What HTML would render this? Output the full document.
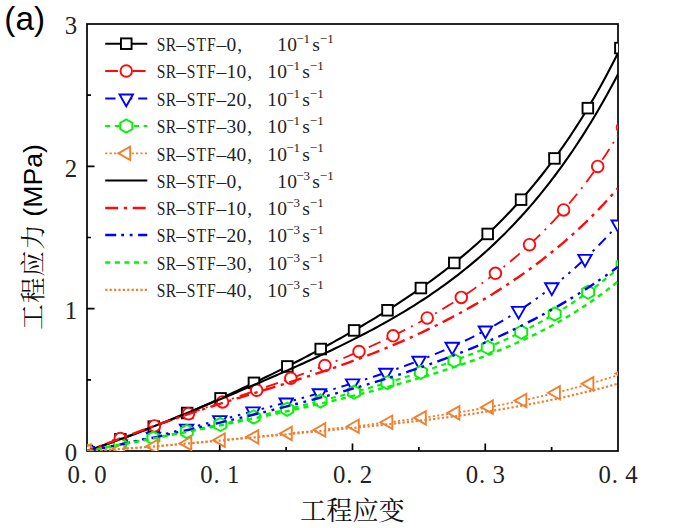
<!DOCTYPE html>
<html>
<head>
<meta charset="utf-8">
<title>SR-STF stress-strain (a)</title>
<style>
html,body{margin:0;padding:0;background:#fff;}
body{width:680px;height:528px;overflow:hidden;}
svg{display:block;}
text{font-family:"Liberation Serif",serif;fill:#222;}
.cjk{font-family:"Liberation Serif","Noto Serif CJK SC",serif;fill:#111;}
.sans{font-family:"Liberation Sans",sans-serif;fill:#000;}
.tk{font-size:24.8px;text-anchor:middle;}
.lg{font-size:19.5px;text-anchor:middle;}
.sp{font-size:13px;text-anchor:middle;}
.ln{fill:none;stroke-linecap:butt;stroke-linejoin:round;}
.mk{fill:#fff;stroke-width:1.9;stroke-linejoin:miter;}
</style>
</head>
<body>
<svg width="680" height="528" viewBox="0 0 680 528">
<rect x="0" y="0" width="680" height="528" fill="#ffffff"/>
<defs><clipPath id="plot"><rect x="87.0" y="24.0" width="531.0" height="427.0"/></clipPath></defs>
<g stroke="#000" stroke-width="1.7" fill="none" shape-rendering="auto">
<rect x="87.0" y="24.0" width="531.0" height="427.0"/>
<path d="M153.38 451.0 v-4 M219.75 451.0 v-7.5 M286.12 451.0 v-4 M352.5 451.0 v-7.5 M418.88 451.0 v-4 M485.25 451.0 v-7.5 M551.62 451.0 v-4 M87.0 379.83 h4 M87.0 308.67 h7.5 M87.0 237.5 h4 M87.0 166.33 h7.5 M87.0 95.17 h4"/>
</g>
<g clip-path="url(#plot)">
<path class="ln" d="M87 451 L90 449.99 L93 448.98 L96 447.95 L99 446.92 L102 445.88 L105 444.84 L108 443.78 L111 442.72 L114 441.65 L117 440.57 L120 439.48 L123 438.38 L126 437.28 L129 436.17 L132 435.05 L135 433.92 L138 432.78 L141 431.63 L144 430.48 L147 429.32 L150 428.15 L153 426.97 L156 425.79 L159 424.59 L162 423.39 L165 422.18 L168 420.96 L171 419.74 L174 418.5 L177 417.26 L180 416.01 L183 414.76 L186 413.49 L189 412.22 L192 410.94 L195 409.65 L198 408.36 L201 407.06 L204 405.75 L207 404.43 L210 403.1 L213 401.77 L216 400.43 L219 399.08 L222 397.73 L225 396.37 L228 395 L231 393.63 L234 392.24 L237 390.85 L240 389.45 L243 388.05 L246 386.64 L249 385.22 L252 383.79 L255 382.36 L258 380.92 L261 379.47 L264 378.01 L267 376.55 L270 375.08 L273 373.6 L276 372.12 L279 370.63 L282 369.13 L285 367.62 L288 366.1 L291 364.58 L294 363.04 L297 361.5 L300 359.96 L303 358.4 L306 356.83 L309 355.26 L312 353.68 L315 352.09 L318 350.49 L321 348.88 L324 347.26 L327 345.63 L330 343.99 L333 342.34 L336 340.68 L339 339.01 L342 337.33 L345 335.64 L348 333.93 L351 332.22 L354 330.49 L357 328.75 L360 327 L363 325.23 L366 323.45 L369 321.66 L372 319.86 L375 318.04 L378 316.2 L381 314.35 L384 312.48 L387 310.6 L390 308.7 L393 306.78 L396 304.85 L399 302.9 L402 300.93 L405 298.94 L408 296.93 L411 294.9 L414 292.85 L417 290.77 L420 288.68 L423 286.56 L426 284.42 L429 282.26 L432 280.07 L435 277.85 L438 275.61 L441 273.34 L444 271.05 L447 268.72 L450 266.37 L453 263.98 L456 261.57 L459 259.12 L462 256.64 L465 254.13 L468 251.58 L471 249 L474 246.38 L477 243.72 L480 241.02 L483 238.29 L486 235.51 L489 232.69 L492 229.83 L495 226.93 L498 223.98 L501 220.98 L504 217.94 L507 214.85 L510 211.7 L513 208.51 L516 205.27 L519 201.97 L522 198.62 L525 195.21 L528 191.74 L531 188.21 L534 184.62 L537 180.97 L540 177.26 L543 173.48 L546 169.64 L549 165.73 L552 161.74 L555 157.69 L558 153.56 L561 149.36 L564 145.09 L567 140.73 L570 136.3 L573 131.78 L576 127.18 L579 122.49 L582 117.72 L585 112.86 L588 107.91 L591 102.86 L594 97.72 L597 92.49 L600 87.15 L603 81.72 L606 76.18 L609 70.53 L612 64.78 L615 58.92 L618 52.94" stroke="#000000" stroke-width="2.1"/>
<rect class="mk" x="81.7" y="445.7" width="10.6" height="10.6" stroke="#000000"/>
<rect class="mk" x="115.09" y="434.04" width="10.6" height="10.6" stroke="#000000"/>
<rect class="mk" x="148.48" y="421.36" width="10.6" height="10.6" stroke="#000000"/>
<rect class="mk" x="181.87" y="407.7" width="10.6" height="10.6" stroke="#000000"/>
<rect class="mk" x="215.26" y="393.08" width="10.6" height="10.6" stroke="#000000"/>
<rect class="mk" x="248.65" y="377.56" width="10.6" height="10.6" stroke="#000000"/>
<rect class="mk" x="282.04" y="361.14" width="10.6" height="10.6" stroke="#000000"/>
<rect class="mk" x="315.43" y="343.72" width="10.6" height="10.6" stroke="#000000"/>
<rect class="mk" x="348.82" y="325.12" width="10.6" height="10.6" stroke="#000000"/>
<rect class="mk" x="382.21" y="304.98" width="10.6" height="10.6" stroke="#000000"/>
<rect class="mk" x="415.6" y="282.75" width="10.6" height="10.6" stroke="#000000"/>
<rect class="mk" x="448.99" y="257.65" width="10.6" height="10.6" stroke="#000000"/>
<rect class="mk" x="482.38" y="228.64" width="10.6" height="10.6" stroke="#000000"/>
<rect class="mk" x="515.77" y="194.36" width="10.6" height="10.6" stroke="#000000"/>
<rect class="mk" x="549.16" y="153.13" width="10.6" height="10.6" stroke="#000000"/>
<rect class="mk" x="582.55" y="102.86" width="10.6" height="10.6" stroke="#000000"/>
<rect class="mk" x="615.1" y="42.78" width="10.6" height="10.6" stroke="#000000"/>
<path class="ln" d="M87 451 L90 449.9 L93 448.8 L96 447.69 L99 446.58 L102 445.46 L105 444.34 L108 443.21 L111 442.09 L114 440.96 L117 439.84 L120 438.71 L123 437.58 L126 436.46 L129 435.34 L132 434.21 L135 433.09 L138 431.98 L141 430.86 L144 429.75 L147 428.64 L150 427.54 L153 426.44 L156 425.34 L159 424.25 L162 423.16 L165 422.07 L168 420.99 L171 419.91 L174 418.84 L177 417.77 L180 416.7 L183 415.64 L186 414.58 L189 413.52 L192 412.47 L195 411.42 L198 410.38 L201 409.34 L204 408.3 L207 407.26 L210 406.23 L213 405.19 L216 404.16 L219 403.14 L222 402.11 L225 401.08 L228 400.06 L231 399.03 L234 398.01 L237 396.98 L240 395.96 L243 394.94 L246 393.91 L249 392.88 L252 391.85 L255 390.82 L258 389.79 L261 388.76 L264 387.72 L267 386.68 L270 385.63 L273 384.59 L276 383.53 L279 382.48 L282 381.42 L285 380.35 L288 379.28 L291 378.2 L294 377.12 L297 376.03 L300 374.93 L303 373.83 L306 372.72 L309 371.6 L312 370.47 L315 369.34 L318 368.19 L321 367.04 L324 365.88 L327 364.71 L330 363.53 L333 362.34 L336 361.13 L339 359.92 L342 358.7 L345 357.46 L348 356.21 L351 354.95 L354 353.68 L357 352.4 L360 351.1 L363 349.79 L366 348.46 L369 347.13 L372 345.77 L375 344.41 L378 343.02 L381 341.63 L384 340.22 L387 338.79 L390 337.34 L393 335.88 L396 334.41 L399 332.91 L402 331.4 L405 329.87 L408 328.32 L411 326.76 L414 325.17 L417 323.57 L420 321.94 L423 320.3 L426 318.64 L429 316.95 L432 315.25 L435 313.52 L438 311.77 L441 310 L444 308.2 L447 306.39 L450 304.54 L453 302.68 L456 300.79 L459 298.87 L462 296.92 L465 294.95 L468 292.96 L471 290.93 L474 288.88 L477 286.79 L480 284.68 L483 282.54 L486 280.36 L489 278.15 L492 275.91 L495 273.64 L498 271.33 L501 268.98 L504 266.6 L507 264.18 L510 261.72 L513 259.22 L516 256.69 L519 254.11 L522 251.48 L525 248.81 L528 246.1 L531 243.34 L534 240.53 L537 237.67 L540 234.76 L543 231.8 L546 228.78 L549 225.71 L552 222.58 L555 219.39 L558 216.14 L561 212.83 L564 209.46 L567 206.01 L570 202.5 L573 198.92 L576 195.27 L579 191.54 L582 187.73 L585 183.85 L588 179.88 L591 175.83 L594 171.69 L597 167.46 L600 163.14 L603 158.72 L606 154.21 L609 149.6 L612 144.88 L615 140.05 L618 135.11" stroke="#ff0a0a" stroke-width="1.8" stroke-dasharray="12.8 6.4 2 6.4" stroke-dashoffset="3.2"/>
<circle class="mk" cx="86.2" cy="451.29" r="5.8" stroke="#ff0a0a"/>
<circle class="mk" cx="120.3" cy="438.6" r="5.8" stroke="#ff0a0a"/>
<circle class="mk" cx="154.4" cy="425.92" r="5.8" stroke="#ff0a0a"/>
<circle class="mk" cx="188.5" cy="413.7" r="5.8" stroke="#ff0a0a"/>
<circle class="mk" cx="222.6" cy="401.9" r="5.8" stroke="#ff0a0a"/>
<circle class="mk" cx="256.7" cy="390.24" r="5.8" stroke="#ff0a0a"/>
<circle class="mk" cx="290.8" cy="378.27" r="5.8" stroke="#ff0a0a"/>
<circle class="mk" cx="324.9" cy="365.53" r="5.8" stroke="#ff0a0a"/>
<circle class="mk" cx="359" cy="351.53" r="5.8" stroke="#ff0a0a"/>
<circle class="mk" cx="393.1" cy="335.83" r="5.8" stroke="#ff0a0a"/>
<circle class="mk" cx="427.2" cy="317.97" r="5.8" stroke="#ff0a0a"/>
<circle class="mk" cx="461.3" cy="297.38" r="5.8" stroke="#ff0a0a"/>
<circle class="mk" cx="495.4" cy="273.33" r="5.8" stroke="#ff0a0a"/>
<circle class="mk" cx="529.5" cy="244.72" r="5.8" stroke="#ff0a0a"/>
<circle class="mk" cx="563.6" cy="209.91" r="5.8" stroke="#ff0a0a"/>
<circle class="mk" cx="597.7" cy="166.46" r="5.8" stroke="#ff0a0a"/>
<circle class="mk" cx="622.5" cy="127.49" r="5.8" stroke="#ff0a0a"/>
<path class="ln" d="M87 451 L90 450.44 L93 449.88 L96 449.3 L99 448.71 L102 448.11 L105 447.5 L108 446.89 L111 446.26 L114 445.63 L117 444.99 L120 444.34 L123 443.68 L126 443.02 L129 442.35 L132 441.67 L135 440.99 L138 440.3 L141 439.61 L144 438.91 L147 438.2 L150 437.49 L153 436.78 L156 436.06 L159 435.34 L162 434.61 L165 433.88 L168 433.14 L171 432.4 L174 431.66 L177 430.92 L180 430.17 L183 429.42 L186 428.66 L189 427.91 L192 427.15 L195 426.39 L198 425.63 L201 424.86 L204 424.09 L207 423.32 L210 422.55 L213 421.78 L216 421 L219 420.23 L222 419.45 L225 418.67 L228 417.89 L231 417.11 L234 416.32 L237 415.53 L240 414.75 L243 413.96 L246 413.17 L249 412.38 L252 411.58 L255 410.79 L258 409.99 L261 409.19 L264 408.39 L267 407.59 L270 406.78 L273 405.97 L276 405.17 L279 404.35 L282 403.54 L285 402.72 L288 401.91 L291 401.08 L294 400.26 L297 399.43 L300 398.6 L303 397.77 L306 396.93 L309 396.09 L312 395.25 L315 394.4 L318 393.55 L321 392.69 L324 391.83 L327 390.96 L330 390.09 L333 389.21 L336 388.33 L339 387.44 L342 386.55 L345 385.65 L348 384.74 L351 383.83 L354 382.91 L357 381.98 L360 381.04 L363 380.1 L366 379.15 L369 378.19 L372 377.22 L375 376.24 L378 375.25 L381 374.26 L384 373.25 L387 372.23 L390 371.2 L393 370.16 L396 369.11 L399 368.05 L402 366.97 L405 365.88 L408 364.78 L411 363.66 L414 362.53 L417 361.39 L420 360.23 L423 359.06 L426 357.87 L429 356.66 L432 355.44 L435 354.2 L438 352.94 L441 351.67 L444 350.37 L447 349.06 L450 347.73 L453 346.38 L456 345.01 L459 343.61 L462 342.2 L465 340.77 L468 339.31 L471 337.83 L474 336.32 L477 334.79 L480 333.24 L483 331.66 L486 330.06 L489 328.43 L492 326.77 L495 325.09 L498 323.37 L501 321.63 L504 319.86 L507 318.06 L510 316.23 L513 314.37 L516 312.48 L519 310.56 L522 308.6 L525 306.61 L528 304.59 L531 302.53 L534 300.43 L537 298.3 L540 296.13 L543 293.93 L546 291.69 L549 289.4 L552 287.08 L555 284.72 L558 282.32 L561 279.88 L564 277.39 L567 274.86 L570 272.29 L573 269.68 L576 267.02 L579 264.31 L582 261.56 L585 258.76 L588 255.91 L591 253.01 L594 250.06 L597 247.07 L600 244.02 L603 240.92 L606 237.77 L609 234.56 L612 231.3 L615 227.99 L618 224.62" stroke="#0000ff" stroke-width="2.0" stroke-dasharray="10.3 5.9 2.5 5.9 2.5 5.9" stroke-dashoffset="1.5"/>
<path class="mk" d="M80.3 447.07 L93.7 447.07 L87 458.87Z" stroke="#0000ff"/>
<path class="mk" d="M113.5 440.37 L126.9 440.37 L120.2 452.17Z" stroke="#0000ff"/>
<path class="mk" d="M146.7 432.75 L160.1 432.75 L153.4 444.55Z" stroke="#0000ff"/>
<path class="mk" d="M179.9 424.58 L193.3 424.58 L186.6 436.38Z" stroke="#0000ff"/>
<path class="mk" d="M213.1 416.09 L226.5 416.09 L219.8 427.89Z" stroke="#0000ff"/>
<path class="mk" d="M246.3 407.39 L259.7 407.39 L253 419.19Z" stroke="#0000ff"/>
<path class="mk" d="M279.5 398.47 L292.9 398.47 L286.2 410.27Z" stroke="#0000ff"/>
<path class="mk" d="M312.7 389.22 L326.1 389.22 L319.4 401.02Z" stroke="#0000ff"/>
<path class="mk" d="M345.9 379.41 L359.3 379.41 L352.6 391.21Z" stroke="#0000ff"/>
<path class="mk" d="M379.1 368.71 L392.5 368.71 L385.8 380.51Z" stroke="#0000ff"/>
<path class="mk" d="M412.3 356.69 L425.7 356.69 L419 368.49Z" stroke="#0000ff"/>
<path class="mk" d="M445.5 342.81 L458.9 342.81 L452.2 354.61Z" stroke="#0000ff"/>
<path class="mk" d="M478.7 326.45 L492.1 326.45 L485.4 338.25Z" stroke="#0000ff"/>
<path class="mk" d="M511.9 306.89 L525.3 306.89 L518.6 318.69Z" stroke="#0000ff"/>
<path class="mk" d="M545.1 283.31 L558.5 283.31 L551.8 295.11Z" stroke="#0000ff"/>
<path class="mk" d="M578.3 254.83 L591.7 254.83 L585 266.63Z" stroke="#0000ff"/>
<path class="mk" d="M611.5 220.46 L624.9 220.46 L618.2 232.26Z" stroke="#0000ff"/>
<path class="ln" d="M87 451 L90 450.42 L93 449.84 L96 449.27 L99 448.69 L102 448.12 L105 447.54 L108 446.96 L111 446.39 L114 445.81 L117 445.24 L120 444.66 L123 444.08 L126 443.5 L129 442.92 L132 442.34 L135 441.76 L138 441.18 L141 440.59 L144 440.01 L147 439.42 L150 438.83 L153 438.24 L156 437.65 L159 437.06 L162 436.46 L165 435.86 L168 435.26 L171 434.66 L174 434.06 L177 433.45 L180 432.84 L183 432.23 L186 431.62 L189 431 L192 430.38 L195 429.76 L198 429.14 L201 428.51 L204 427.88 L207 427.25 L210 426.62 L213 425.98 L216 425.34 L219 424.7 L222 424.05 L225 423.4 L228 422.75 L231 422.09 L234 421.44 L237 420.78 L240 420.11 L243 419.44 L246 418.77 L249 418.1 L252 417.42 L255 416.74 L258 416.06 L261 415.37 L264 414.68 L267 413.99 L270 413.29 L273 412.59 L276 411.89 L279 411.18 L282 410.47 L285 409.75 L288 409.03 L291 408.31 L294 407.58 L297 406.85 L300 406.12 L303 405.38 L306 404.64 L309 403.89 L312 403.14 L315 402.39 L318 401.63 L321 400.86 L324 400.1 L327 399.32 L330 398.55 L333 397.77 L336 396.98 L339 396.19 L342 395.39 L345 394.59 L348 393.78 L351 392.97 L354 392.16 L357 391.33 L360 390.5 L363 389.67 L366 388.83 L369 387.98 L372 387.13 L375 386.27 L378 385.41 L381 384.54 L384 383.66 L387 382.77 L390 381.88 L393 380.98 L396 380.08 L399 379.16 L402 378.24 L405 377.31 L408 376.37 L411 375.42 L414 374.47 L417 373.5 L420 372.53 L423 371.54 L426 370.55 L429 369.55 L432 368.53 L435 367.51 L438 366.47 L441 365.43 L444 364.37 L447 363.3 L450 362.22 L453 361.13 L456 360.02 L459 358.9 L462 357.77 L465 356.62 L468 355.46 L471 354.29 L474 353.1 L477 351.9 L480 350.68 L483 349.44 L486 348.19 L489 346.92 L492 345.63 L495 344.33 L498 343.01 L501 341.67 L504 340.31 L507 338.93 L510 337.53 L513 336.11 L516 334.67 L519 333.2 L522 331.72 L525 330.21 L528 328.68 L531 327.13 L534 325.55 L537 323.94 L540 322.31 L543 320.65 L546 318.97 L549 317.26 L552 315.52 L555 313.75 L558 311.96 L561 310.13 L564 308.27 L567 306.38 L570 304.46 L573 302.5 L576 300.51 L579 298.49 L582 296.43 L585 294.33 L588 292.2 L591 290.02 L594 287.81 L597 285.56 L600 283.27 L603 280.94 L606 278.57 L609 276.15 L612 273.69 L615 271.19 L618 268.64" stroke="#00f500" stroke-width="2.1" stroke-dasharray="5.1 4.5" stroke-dashoffset="0"/>
<path class="mk" d="M86.5 444.5 L92.5 447.8 L92.5 454.4 L86.5 457.7 L80.5 454.4 L80.5 447.8Z" stroke="#00f500"/>
<path class="mk" d="M119.94 438.07 L125.94 441.37 L125.94 447.97 L119.94 451.27 L113.94 447.97 L113.94 441.37Z" stroke="#00f500"/>
<path class="mk" d="M153.38 431.57 L159.38 434.87 L159.38 441.47 L153.38 444.77 L147.38 441.47 L147.38 434.87Z" stroke="#00f500"/>
<path class="mk" d="M186.82 424.85 L192.82 428.15 L192.82 434.75 L186.82 438.05 L180.82 434.75 L180.82 428.15Z" stroke="#00f500"/>
<path class="mk" d="M220.26 417.83 L226.26 421.13 L226.26 427.73 L220.26 431.03 L214.26 427.73 L214.26 421.13Z" stroke="#00f500"/>
<path class="mk" d="M253.7 410.44 L259.7 413.74 L259.7 420.34 L253.7 423.64 L247.7 420.34 L247.7 413.74Z" stroke="#00f500"/>
<path class="mk" d="M287.14 402.64 L293.14 405.94 L293.14 412.54 L287.14 415.84 L281.14 412.54 L281.14 405.94Z" stroke="#00f500"/>
<path class="mk" d="M320.58 394.37 L326.58 397.67 L326.58 404.27 L320.58 407.57 L314.58 404.27 L314.58 397.67Z" stroke="#00f500"/>
<path class="mk" d="M354.02 385.55 L360.02 388.85 L360.02 395.45 L354.02 398.75 L348.02 395.45 L348.02 388.85Z" stroke="#00f500"/>
<path class="mk" d="M387.46 376.04 L393.46 379.34 L393.46 385.94 L387.46 389.24 L381.46 385.94 L381.46 379.34Z" stroke="#00f500"/>
<path class="mk" d="M420.9 365.63 L426.9 368.93 L426.9 375.53 L420.9 378.83 L414.9 375.53 L414.9 368.93Z" stroke="#00f500"/>
<path class="mk" d="M454.34 354.03 L460.34 357.33 L460.34 363.93 L454.34 367.23 L448.34 363.93 L448.34 357.33Z" stroke="#00f500"/>
<path class="mk" d="M487.78 340.84 L493.78 344.14 L493.78 350.74 L487.78 354.04 L481.78 350.74 L481.78 344.14Z" stroke="#00f500"/>
<path class="mk" d="M521.22 325.51 L527.22 328.81 L527.22 335.41 L521.22 338.71 L515.22 335.41 L515.22 328.81Z" stroke="#00f500"/>
<path class="mk" d="M554.66 307.36 L560.66 310.66 L560.66 317.26 L554.66 320.56 L548.66 317.26 L548.66 310.66Z" stroke="#00f500"/>
<path class="mk" d="M588.1 285.52 L594.1 288.82 L594.1 295.42 L588.1 298.72 L582.1 295.42 L582.1 288.82Z" stroke="#00f500"/>
<path class="mk" d="M622.6 258.03 L628.6 261.33 L628.6 267.93 L622.6 271.23 L616.6 267.93 L616.6 261.33Z" stroke="#00f500"/>
<path class="ln" d="M87 451 L90 450.86 L93 450.7 L96 450.54 L99 450.38 L102 450.2 L105 450.03 L108 449.84 L111 449.65 L114 449.45 L117 449.25 L120 449.04 L123 448.83 L126 448.61 L129 448.39 L132 448.17 L135 447.94 L138 447.7 L141 447.46 L144 447.22 L147 446.98 L150 446.73 L153 446.48 L156 446.22 L159 445.96 L162 445.7 L165 445.44 L168 445.17 L171 444.91 L174 444.64 L177 444.36 L180 444.09 L183 443.81 L186 443.53 L189 443.25 L192 442.97 L195 442.69 L198 442.4 L201 442.12 L204 441.83 L207 441.54 L210 441.25 L213 440.96 L216 440.67 L219 440.38 L222 440.08 L225 439.79 L228 439.49 L231 439.2 L234 438.9 L237 438.6 L240 438.3 L243 438.01 L246 437.71 L249 437.4 L252 437.1 L255 436.8 L258 436.5 L261 436.19 L264 435.89 L267 435.59 L270 435.28 L273 434.97 L276 434.67 L279 434.36 L282 434.05 L285 433.74 L288 433.43 L291 433.12 L294 432.81 L297 432.5 L300 432.18 L303 431.87 L306 431.55 L309 431.24 L312 430.92 L315 430.6 L318 430.28 L321 429.96 L324 429.64 L327 429.31 L330 428.99 L333 428.66 L336 428.33 L339 428 L342 427.67 L345 427.33 L348 426.99 L351 426.66 L354 426.31 L357 425.97 L360 425.63 L363 425.28 L366 424.93 L369 424.58 L372 424.22 L375 423.86 L378 423.5 L381 423.14 L384 422.77 L387 422.4 L390 422.03 L393 421.65 L396 421.27 L399 420.88 L402 420.5 L405 420.1 L408 419.71 L411 419.31 L414 418.9 L417 418.5 L420 418.08 L423 417.67 L426 417.25 L429 416.82 L432 416.39 L435 415.95 L438 415.51 L441 415.06 L444 414.61 L447 414.16 L450 413.69 L453 413.22 L456 412.75 L459 412.27 L462 411.78 L465 411.29 L468 410.79 L471 410.29 L474 409.77 L477 409.26 L480 408.73 L483 408.2 L486 407.66 L489 407.11 L492 406.56 L495 406 L498 405.43 L501 404.85 L504 404.27 L507 403.67 L510 403.07 L513 402.46 L516 401.85 L519 401.22 L522 400.59 L525 399.95 L528 399.3 L531 398.64 L534 397.97 L537 397.29 L540 396.6 L543 395.9 L546 395.2 L549 394.48 L552 393.76 L555 393.02 L558 392.28 L561 391.52 L564 390.76 L567 389.98 L570 389.2 L573 388.4 L576 387.6 L579 386.78 L582 385.95 L585 385.11 L588 384.27 L591 383.41 L594 382.53 L597 381.65 L600 380.76 L603 379.86 L606 378.94 L609 378.01 L612 377.08 L615 376.13 L618 375.16" stroke="#f08030" stroke-width="1.8" stroke-dasharray="2.2 2.2" stroke-dashoffset="0"/>
<path class="mk" d="M90.73 444.31 L90.73 457.71 L78.93 451.01Z" stroke="#f08030"/>
<path class="mk" d="M124.24 442.32 L124.24 455.72 L112.44 449.02Z" stroke="#f08030"/>
<path class="mk" d="M157.75 439.71 L157.75 453.11 L145.95 446.41Z" stroke="#f08030"/>
<path class="mk" d="M191.26 436.71 L191.26 450.11 L179.46 443.41Z" stroke="#f08030"/>
<path class="mk" d="M224.77 433.5 L224.77 446.9 L212.97 440.2Z" stroke="#f08030"/>
<path class="mk" d="M258.28 430.17 L258.28 443.57 L246.48 436.87Z" stroke="#f08030"/>
<path class="mk" d="M291.79 426.75 L291.79 440.15 L279.99 433.45Z" stroke="#f08030"/>
<path class="mk" d="M325.3 423.22 L325.3 436.62 L313.5 429.92Z" stroke="#f08030"/>
<path class="mk" d="M358.81 419.51 L358.81 432.91 L347.01 426.21Z" stroke="#f08030"/>
<path class="mk" d="M392.32 415.53 L392.32 428.93 L380.52 422.23Z" stroke="#f08030"/>
<path class="mk" d="M425.83 411.12 L425.83 424.52 L414.03 417.82Z" stroke="#f08030"/>
<path class="mk" d="M459.34 406.14 L459.34 419.54 L447.54 412.84Z" stroke="#f08030"/>
<path class="mk" d="M492.85 400.43 L492.85 413.83 L481.05 407.13Z" stroke="#f08030"/>
<path class="mk" d="M526.36 393.8 L526.36 407.2 L514.56 400.5Z" stroke="#f08030"/>
<path class="mk" d="M559.87 386.09 L559.87 399.49 L548.07 392.79Z" stroke="#f08030"/>
<path class="mk" d="M593.38 377.15 L593.38 390.55 L581.58 383.85Z" stroke="#f08030"/>
<path class="mk" d="M627.33 366.7 L627.33 380.1 L615.53 373.4Z" stroke="#f08030"/>
<path class="ln" d="M87 451 L90 449.99 L93 448.97 L96 447.94 L99 446.89 L102 445.84 L105 444.77 L108 443.7 L111 442.61 L114 441.52 L117 440.42 L120 439.31 L123 438.19 L126 437.07 L129 435.93 L132 434.79 L135 433.65 L138 432.49 L141 431.34 L144 430.17 L147 429 L150 427.82 L153 426.64 L156 425.46 L159 424.27 L162 423.07 L165 421.87 L168 420.67 L171 419.46 L174 418.25 L177 417.04 L180 415.82 L183 414.6 L186 413.37 L189 412.15 L192 410.92 L195 409.69 L198 408.45 L201 407.21 L204 405.97 L207 404.73 L210 403.48 L213 402.24 L216 400.99 L219 399.73 L222 398.48 L225 397.22 L228 395.96 L231 394.7 L234 393.43 L237 392.17 L240 390.9 L243 389.63 L246 388.35 L249 387.07 L252 385.79 L255 384.51 L258 383.22 L261 381.93 L264 380.64 L267 379.34 L270 378.04 L273 376.74 L276 375.43 L279 374.12 L282 372.8 L285 371.48 L288 370.16 L291 368.83 L294 367.49 L297 366.15 L300 364.8 L303 363.44 L306 362.08 L309 360.72 L312 359.34 L315 357.96 L318 356.57 L321 355.17 L324 353.77 L327 352.35 L330 350.93 L333 349.5 L336 348.05 L339 346.6 L342 345.14 L345 343.66 L348 342.18 L351 340.68 L354 339.17 L357 337.64 L360 336.1 L363 334.55 L366 332.99 L369 331.41 L372 329.81 L375 328.2 L378 326.57 L381 324.92 L384 323.26 L387 321.58 L390 319.88 L393 318.16 L396 316.42 L399 314.66 L402 312.88 L405 311.07 L408 309.25 L411 307.4 L414 305.52 L417 303.62 L420 301.7 L423 299.75 L426 297.77 L429 295.77 L432 293.74 L435 291.68 L438 289.59 L441 287.47 L444 285.31 L447 283.13 L450 280.91 L453 278.66 L456 276.38 L459 274.06 L462 271.7 L465 269.3 L468 266.87 L471 264.4 L474 261.89 L477 259.34 L480 256.75 L483 254.11 L486 251.43 L489 248.71 L492 245.94 L495 243.12 L498 240.26 L501 237.35 L504 234.39 L507 231.38 L510 228.32 L513 225.21 L516 222.04 L519 218.82 L522 215.54 L525 212.21 L528 208.81 L531 205.36 L534 201.85 L537 198.28 L540 194.65 L543 190.95 L546 187.19 L549 183.36 L552 179.46 L555 175.5 L558 171.47 L561 167.37 L564 163.19 L567 158.94 L570 154.62 L573 150.22 L576 145.75 L579 141.2 L582 136.56 L585 131.85 L588 127.06 L591 122.18 L594 117.22 L597 112.17 L600 107.03 L603 101.8 L606 96.49 L609 91.08 L612 85.58 L615 79.98 L618 74.29" stroke="#000000" stroke-width="2.1"/>
<path class="ln" d="M87 451 L90 449.9 L93 448.8 L96 447.68 L99 446.56 L102 445.44 L105 444.32 L108 443.19 L111 442.05 L114 440.92 L117 439.79 L120 438.66 L123 437.53 L126 436.4 L129 435.28 L132 434.15 L135 433.03 L138 431.92 L141 430.81 L144 429.7 L147 428.6 L150 427.51 L153 426.42 L156 425.34 L159 424.26 L162 423.19 L165 422.13 L168 421.07 L171 420.02 L174 418.98 L177 417.94 L180 416.91 L183 415.89 L186 414.87 L189 413.86 L192 412.86 L195 411.86 L198 410.87 L201 409.89 L204 408.91 L207 407.93 L210 406.97 L213 406 L216 405.05 L219 404.09 L222 403.14 L225 402.2 L228 401.26 L231 400.32 L234 399.39 L237 398.46 L240 397.53 L243 396.6 L246 395.68 L249 394.75 L252 393.83 L255 392.91 L258 391.99 L261 391.07 L264 390.15 L267 389.23 L270 388.31 L273 387.38 L276 386.46 L279 385.53 L282 384.6 L285 383.67 L288 382.73 L291 381.79 L294 380.85 L297 379.9 L300 378.94 L303 377.99 L306 377.02 L309 376.05 L312 375.08 L315 374.09 L318 373.1 L321 372.11 L324 371.1 L327 370.09 L330 369.07 L333 368.04 L336 367.01 L339 365.96 L342 364.9 L345 363.84 L348 362.76 L351 361.67 L354 360.58 L357 359.47 L360 358.35 L363 357.22 L366 356.08 L369 354.92 L372 353.75 L375 352.58 L378 351.38 L381 350.18 L384 348.96 L387 347.73 L390 346.48 L393 345.22 L396 343.95 L399 342.66 L402 341.36 L405 340.04 L408 338.71 L411 337.36 L414 336 L417 334.62 L420 333.22 L423 331.81 L426 330.39 L429 328.94 L432 327.48 L435 326 L438 324.51 L441 323 L444 321.47 L447 319.92 L450 318.36 L453 316.77 L456 315.17 L459 313.55 L462 311.91 L465 310.25 L468 308.57 L471 306.87 L474 305.15 L477 303.42 L480 301.66 L483 299.87 L486 298.07 L489 296.25 L492 294.4 L495 292.53 L498 290.64 L501 288.72 L504 286.78 L507 284.82 L510 282.83 L513 280.81 L516 278.77 L519 276.71 L522 274.61 L525 272.49 L528 270.34 L531 268.16 L534 265.95 L537 263.71 L540 261.44 L543 259.14 L546 256.8 L549 254.43 L552 252.03 L555 249.59 L558 247.11 L561 244.6 L564 242.05 L567 239.46 L570 236.82 L573 234.15 L576 231.43 L579 228.67 L582 225.86 L585 223 L588 220.09 L591 217.14 L594 214.13 L597 211.07 L600 207.95 L603 204.77 L606 201.54 L609 198.24 L612 194.89 L615 191.46 L618 187.98" stroke="#ff0a0a" stroke-width="2.4" stroke-dasharray="13 5.6 3.3 5.6" stroke-dashoffset="6.4"/>
<path class="ln" d="M87 451 L90 450.45 L93 449.89 L96 449.32 L99 448.75 L102 448.17 L105 447.59 L108 447.01 L111 446.42 L114 445.82 L117 445.22 L120 444.61 L123 444.01 L126 443.39 L129 442.78 L132 442.16 L135 441.53 L138 440.9 L141 440.27 L144 439.64 L147 439 L150 438.36 L153 437.71 L156 437.06 L159 436.41 L162 435.76 L165 435.1 L168 434.44 L171 433.78 L174 433.11 L177 432.45 L180 431.78 L183 431.1 L186 430.43 L189 429.75 L192 429.07 L195 428.39 L198 427.7 L201 427.01 L204 426.33 L207 425.63 L210 424.94 L213 424.24 L216 423.54 L219 422.84 L222 422.14 L225 421.44 L228 420.73 L231 420.02 L234 419.31 L237 418.59 L240 417.88 L243 417.16 L246 416.43 L249 415.71 L252 414.98 L255 414.25 L258 413.52 L261 412.79 L264 412.05 L267 411.31 L270 410.57 L273 409.82 L276 409.08 L279 408.33 L282 407.57 L285 406.81 L288 406.05 L291 405.29 L294 404.52 L297 403.75 L300 402.98 L303 402.2 L306 401.42 L309 400.63 L312 399.84 L315 399.05 L318 398.25 L321 397.45 L324 396.64 L327 395.83 L330 395.02 L333 394.19 L336 393.37 L339 392.54 L342 391.7 L345 390.86 L348 390.02 L351 389.16 L354 388.31 L357 387.44 L360 386.57 L363 385.7 L366 384.82 L369 383.93 L372 383.03 L375 382.13 L378 381.22 L381 380.3 L384 379.38 L387 378.45 L390 377.51 L393 376.56 L396 375.61 L399 374.65 L402 373.67 L405 372.69 L408 371.71 L411 370.71 L414 369.7 L417 368.68 L420 367.66 L423 366.62 L426 365.58 L429 364.52 L432 363.45 L435 362.38 L438 361.29 L441 360.19 L444 359.08 L447 357.96 L450 356.82 L453 355.68 L456 354.52 L459 353.35 L462 352.16 L465 350.97 L468 349.76 L471 348.54 L474 347.3 L477 346.05 L480 344.79 L483 343.51 L486 342.21 L489 340.91 L492 339.58 L495 338.24 L498 336.89 L501 335.52 L504 334.13 L507 332.73 L510 331.31 L513 329.88 L516 328.42 L519 326.95 L522 325.46 L525 323.96 L528 322.43 L531 320.89 L534 319.33 L537 317.75 L540 316.15 L543 314.52 L546 312.88 L549 311.22 L552 309.54 L555 307.84 L558 306.12 L561 304.37 L564 302.61 L567 300.82 L570 299.01 L573 297.18 L576 295.32 L579 293.44 L582 291.54 L585 289.62 L588 287.67 L591 285.69 L594 283.69 L597 281.67 L600 279.62 L603 277.54 L606 275.44 L609 273.32 L612 271.16 L615 268.98 L618 266.78" stroke="#0000ff" stroke-width="2.4" stroke-dasharray="11 5 2.8 5.7 2.8 5.6" stroke-dashoffset="0"/>
<path class="ln" d="M87 451 L90 450.42 L93 449.85 L96 449.27 L99 448.7 L102 448.13 L105 447.56 L108 446.99 L111 446.42 L114 445.85 L117 445.28 L120 444.71 L123 444.15 L126 443.58 L129 443.01 L132 442.45 L135 441.88 L138 441.31 L141 440.74 L144 440.17 L147 439.61 L150 439.04 L153 438.47 L156 437.89 L159 437.32 L162 436.75 L165 436.17 L168 435.6 L171 435.02 L174 434.44 L177 433.86 L180 433.28 L183 432.7 L186 432.11 L189 431.53 L192 430.94 L195 430.35 L198 429.76 L201 429.17 L204 428.57 L207 427.98 L210 427.38 L213 426.78 L216 426.18 L219 425.57 L222 424.96 L225 424.36 L228 423.75 L231 423.13 L234 422.52 L237 421.9 L240 421.28 L243 420.66 L246 420.03 L249 419.41 L252 418.78 L255 418.15 L258 417.51 L261 416.88 L264 416.24 L267 415.6 L270 414.95 L273 414.3 L276 413.65 L279 413 L282 412.35 L285 411.69 L288 411.03 L291 410.36 L294 409.7 L297 409.03 L300 408.35 L303 407.68 L306 407 L309 406.31 L312 405.63 L315 404.94 L318 404.24 L321 403.55 L324 402.85 L327 402.14 L330 401.43 L333 400.72 L336 400.01 L339 399.29 L342 398.56 L345 397.83 L348 397.1 L351 396.36 L354 395.62 L357 394.87 L360 394.12 L363 393.37 L366 392.6 L369 391.84 L372 391.06 L375 390.29 L378 389.5 L381 388.71 L384 387.92 L387 387.12 L390 386.31 L393 385.49 L396 384.67 L399 383.84 L402 383.01 L405 382.16 L408 381.31 L411 380.45 L414 379.59 L417 378.71 L420 377.83 L423 376.94 L426 376.04 L429 375.13 L432 374.21 L435 373.28 L438 372.34 L441 371.39 L444 370.43 L447 369.46 L450 368.48 L453 367.48 L456 366.48 L459 365.46 L462 364.43 L465 363.38 L468 362.32 L471 361.25 L474 360.17 L477 359.07 L480 357.95 L483 356.83 L486 355.68 L489 354.52 L492 353.34 L495 352.14 L498 350.93 L501 349.7 L504 348.45 L507 347.18 L510 345.9 L513 344.59 L516 343.26 L519 341.91 L522 340.54 L525 339.15 L528 337.73 L531 336.3 L534 334.83 L537 333.35 L540 331.84 L543 330.3 L546 328.74 L549 327.15 L552 325.53 L555 323.88 L558 322.21 L561 320.5 L564 318.77 L567 317 L570 315.2 L573 313.37 L576 311.51 L579 309.61 L582 307.68 L585 305.71 L588 303.7 L591 301.66 L594 299.58 L597 297.46 L600 295.3 L603 293.1 L606 290.86 L609 288.58 L612 286.25 L615 283.88 L618 281.46" stroke="#00f500" stroke-width="2.4" stroke-dasharray="5.1 4.5" stroke-dashoffset="0"/>
<path class="ln" d="M87 451 L90 450.86 L93 450.7 L96 450.54 L99 450.38 L102 450.21 L105 450.03 L108 449.85 L111 449.66 L114 449.46 L117 449.26 L120 449.06 L123 448.85 L126 448.63 L129 448.42 L132 448.19 L135 447.97 L138 447.74 L141 447.5 L144 447.27 L147 447.03 L150 446.78 L153 446.54 L156 446.29 L159 446.04 L162 445.78 L165 445.53 L168 445.27 L171 445.01 L174 444.75 L177 444.48 L180 444.22 L183 443.95 L186 443.68 L189 443.41 L192 443.14 L195 442.87 L198 442.6 L201 442.33 L204 442.05 L207 441.77 L210 441.5 L213 441.22 L216 440.94 L219 440.67 L222 440.39 L225 440.11 L228 439.83 L231 439.55 L234 439.27 L237 438.99 L240 438.71 L243 438.43 L246 438.15 L249 437.86 L252 437.58 L255 437.3 L258 437.02 L261 436.74 L264 436.46 L267 436.17 L270 435.89 L273 435.61 L276 435.33 L279 435.04 L282 434.76 L285 434.48 L288 434.2 L291 433.91 L294 433.63 L297 433.34 L300 433.06 L303 432.77 L306 432.49 L309 432.2 L312 431.92 L315 431.63 L318 431.34 L321 431.05 L324 430.76 L327 430.47 L330 430.18 L333 429.89 L336 429.6 L339 429.31 L342 429.01 L345 428.72 L348 428.42 L351 428.12 L354 427.82 L357 427.52 L360 427.21 L363 426.91 L366 426.6 L369 426.3 L372 425.98 L375 425.67 L378 425.36 L381 425.04 L384 424.72 L387 424.4 L390 424.08 L393 423.75 L396 423.42 L399 423.09 L402 422.75 L405 422.41 L408 422.07 L411 421.73 L414 421.38 L417 421.03 L420 420.68 L423 420.32 L426 419.95 L429 419.59 L432 419.22 L435 418.84 L438 418.46 L441 418.08 L444 417.69 L447 417.3 L450 416.91 L453 416.5 L456 416.1 L459 415.69 L462 415.27 L465 414.85 L468 414.42 L471 413.99 L474 413.55 L477 413.1 L480 412.65 L483 412.2 L486 411.74 L489 411.27 L492 410.79 L495 410.31 L498 409.82 L501 409.33 L504 408.83 L507 408.32 L510 407.8 L513 407.28 L516 406.75 L519 406.21 L522 405.67 L525 405.11 L528 404.55 L531 403.99 L534 403.41 L537 402.83 L540 402.23 L543 401.63 L546 401.02 L549 400.41 L552 399.78 L555 399.15 L558 398.5 L561 397.85 L564 397.19 L567 396.52 L570 395.84 L573 395.15 L576 394.45 L579 393.75 L582 393.03 L585 392.3 L588 391.57 L591 390.82 L594 390.06 L597 389.3 L600 388.52 L603 387.74 L606 386.94 L609 386.13 L612 385.32 L615 384.49 L618 383.65" stroke="#f08030" stroke-width="2.2" stroke-dasharray="2.2 2.2" stroke-dashoffset="0"/>
</g>
<text class="tk" x="73.6 83.75 100.4" y="482.5">0.0</text>
<text class="tk" x="206.35 216.5 233.15" y="482.5">0.1</text>
<text class="tk" x="339.1 349.25 365.9" y="482.5">0.2</text>
<text class="tk" x="471.85 482 498.65" y="482.5">0.3</text>
<text class="tk" x="604.6 614.75 631.4" y="482.5">0.4</text>
<text class="tk" x="71" y="461.2">0</text>
<text class="tk" x="71" y="318.87">1</text>
<text class="tk" x="71" y="176.53">2</text>
<text class="tk" x="71" y="34.2">3</text>
<text class="sans" x="4.3" y="30" font-size="33.3">(a)</text>
<text class="cjk" x="300 326.2 352.4 378.6" y="520.2" font-size="26.2">工程应变</text>
<g transform="translate(41.5 329.8) rotate(-90)">
<text class="cjk" x="0 26.7 53.4 80.1" y="0" font-size="25.5">工程应力</text>
<text class="sans" x="113.1" y="0.5" font-size="26.67">(MPa)</text>
</g>
<path class="ln" d="M105.2 43.7 H147.3" stroke="#000000" stroke-width="2.1"/>
<rect class="mk" x="120.95" y="38.4" width="10.6" height="10.6" stroke="#000000"/>
<g transform="scale(0.8 1)"><text class="lg" x="201.28 213.84 238.97 251.53 264.09" y="51.1">SRSTF</text></g>
<text class="lg" x="181.12 221.32 231.38 239.6" y="51.1">––0,</text>
<text class="lg" x="282.02 292.07" y="51.1">10</text>
<text class="sp" x="299.95 306.85" y="42.8">−1</text>
<text class="lg" x="315.93" y="51.1">s</text>
<text class="sp" x="323.5 330.4" y="42.8">−1</text>
<path class="ln" d="M105.2 71 H147.3" stroke="#ff0a0a" stroke-width="1.8" stroke-dasharray="12.8 6.4 2 6.4" stroke-dashoffset="0"/>
<circle class="mk" cx="126.25" cy="71" r="5.8" stroke="#ff0a0a"/>
<g transform="scale(0.8 1)"><text class="lg" x="201.28 213.84 238.97 251.53 264.09" y="78.4">SRSTF</text></g>
<text class="lg" x="181.12 221.32 231.38 241.43 249.65" y="78.4">––10,</text>
<text class="lg" x="272.02 282.07" y="78.4">10</text>
<text class="sp" x="289.95 296.85" y="70.1">−1</text>
<text class="lg" x="305.93" y="78.4">s</text>
<text class="sp" x="313.5 320.4" y="70.1">−1</text>
<path class="ln" d="M105.2 98.4 H147.3" stroke="#0000ff" stroke-width="2.0" stroke-dasharray="10.3 5.9 2.5 5.9 2.5 5.9" stroke-dashoffset="0"/>
<path class="mk" d="M119.55 94.47 L132.95 94.47 L126.25 106.27Z" stroke="#0000ff"/>
<g transform="scale(0.8 1)"><text class="lg" x="201.28 213.84 238.97 251.53 264.09" y="105.8">SRSTF</text></g>
<text class="lg" x="181.12 221.32 231.38 241.43 249.65" y="105.8">––20,</text>
<text class="lg" x="272.02 282.07" y="105.8">10</text>
<text class="sp" x="289.95 296.85" y="97.5">−1</text>
<text class="lg" x="305.93" y="105.8">s</text>
<text class="sp" x="313.5 320.4" y="97.5">−1</text>
<path class="ln" d="M105.2 126 H147.3" stroke="#00f500" stroke-width="2.1" stroke-dasharray="5.1 4.5" stroke-dashoffset="0"/>
<path class="mk" d="M126.25 119.4 L132.25 122.7 L132.25 129.3 L126.25 132.6 L120.25 129.3 L120.25 122.7Z" stroke="#00f500"/>
<g transform="scale(0.8 1)"><text class="lg" x="201.28 213.84 238.97 251.53 264.09" y="133.4">SRSTF</text></g>
<text class="lg" x="181.12 221.32 231.38 241.43 249.65" y="133.4">––30,</text>
<text class="lg" x="272.02 282.07" y="133.4">10</text>
<text class="sp" x="289.95 296.85" y="125.1">−1</text>
<text class="lg" x="305.93" y="133.4">s</text>
<text class="sp" x="313.5 320.4" y="125.1">−1</text>
<path class="ln" d="M105.2 153.3 H147.3" stroke="#f08030" stroke-width="1.8" stroke-dasharray="2.2 2.2" stroke-dashoffset="0"/>
<path class="mk" d="M130.18 146.6 L130.18 160 L118.38 153.3Z" stroke="#f08030"/>
<g transform="scale(0.8 1)"><text class="lg" x="201.28 213.84 238.97 251.53 264.09" y="160.7">SRSTF</text></g>
<text class="lg" x="181.12 221.32 231.38 241.43 249.65" y="160.7">––40,</text>
<text class="lg" x="272.02 282.07" y="160.7">10</text>
<text class="sp" x="289.95 296.85" y="152.4">−1</text>
<text class="lg" x="305.93" y="160.7">s</text>
<text class="sp" x="313.5 320.4" y="152.4">−1</text>
<path class="ln" d="M105.2 180.5 H147.3" stroke="#000000" stroke-width="2.1"/>
<g transform="scale(0.8 1)"><text class="lg" x="201.28 213.84 238.97 251.53 264.09" y="187.9">SRSTF</text></g>
<text class="lg" x="181.12 221.32 231.38 239.6" y="187.9">––0,</text>
<text class="lg" x="282.02 292.07" y="187.9">10</text>
<text class="sp" x="299.95 306.85" y="179.6">−3</text>
<text class="lg" x="315.93" y="187.9">s</text>
<text class="sp" x="323.5 330.4" y="179.6">−1</text>
<path class="ln" d="M105.2 208 H147.3" stroke="#ff0a0a" stroke-width="2.4" stroke-dasharray="13 5.6 3.3 5.6" stroke-dashoffset="0"/>
<g transform="scale(0.8 1)"><text class="lg" x="201.28 213.84 238.97 251.53 264.09" y="215.4">SRSTF</text></g>
<text class="lg" x="181.12 221.32 231.38 241.43 249.65" y="215.4">––10,</text>
<text class="lg" x="272.02 282.07" y="215.4">10</text>
<text class="sp" x="289.95 296.85" y="207.1">−3</text>
<text class="lg" x="305.93" y="215.4">s</text>
<text class="sp" x="313.5 320.4" y="207.1">−1</text>
<path class="ln" d="M105.2 235 H147.3" stroke="#0000ff" stroke-width="2.4" stroke-dasharray="11 5 2.8 5.7 2.8 5.6" stroke-dashoffset="0"/>
<g transform="scale(0.8 1)"><text class="lg" x="201.28 213.84 238.97 251.53 264.09" y="242.4">SRSTF</text></g>
<text class="lg" x="181.12 221.32 231.38 241.43 249.65" y="242.4">––20,</text>
<text class="lg" x="272.02 282.07" y="242.4">10</text>
<text class="sp" x="289.95 296.85" y="234.1">−3</text>
<text class="lg" x="305.93" y="242.4">s</text>
<text class="sp" x="313.5 320.4" y="234.1">−1</text>
<path class="ln" d="M105.2 262.5 H147.3" stroke="#00f500" stroke-width="2.4" stroke-dasharray="5.1 4.5" stroke-dashoffset="0"/>
<g transform="scale(0.8 1)"><text class="lg" x="201.28 213.84 238.97 251.53 264.09" y="269.9">SRSTF</text></g>
<text class="lg" x="181.12 221.32 231.38 241.43 249.65" y="269.9">––30,</text>
<text class="lg" x="272.02 282.07" y="269.9">10</text>
<text class="sp" x="289.95 296.85" y="261.6">−3</text>
<text class="lg" x="305.93" y="269.9">s</text>
<text class="sp" x="313.5 320.4" y="261.6">−1</text>
<path class="ln" d="M105.2 289.8 H147.3" stroke="#f08030" stroke-width="2.2" stroke-dasharray="2.2 2.2" stroke-dashoffset="0"/>
<g transform="scale(0.8 1)"><text class="lg" x="201.28 213.84 238.97 251.53 264.09" y="297.2">SRSTF</text></g>
<text class="lg" x="181.12 221.32 231.38 241.43 249.65" y="297.2">––40,</text>
<text class="lg" x="272.02 282.07" y="297.2">10</text>
<text class="sp" x="289.95 296.85" y="288.9">−3</text>
<text class="lg" x="305.93" y="297.2">s</text>
<text class="sp" x="313.5 320.4" y="288.9">−1</text>
</svg>
</body>
</html>
